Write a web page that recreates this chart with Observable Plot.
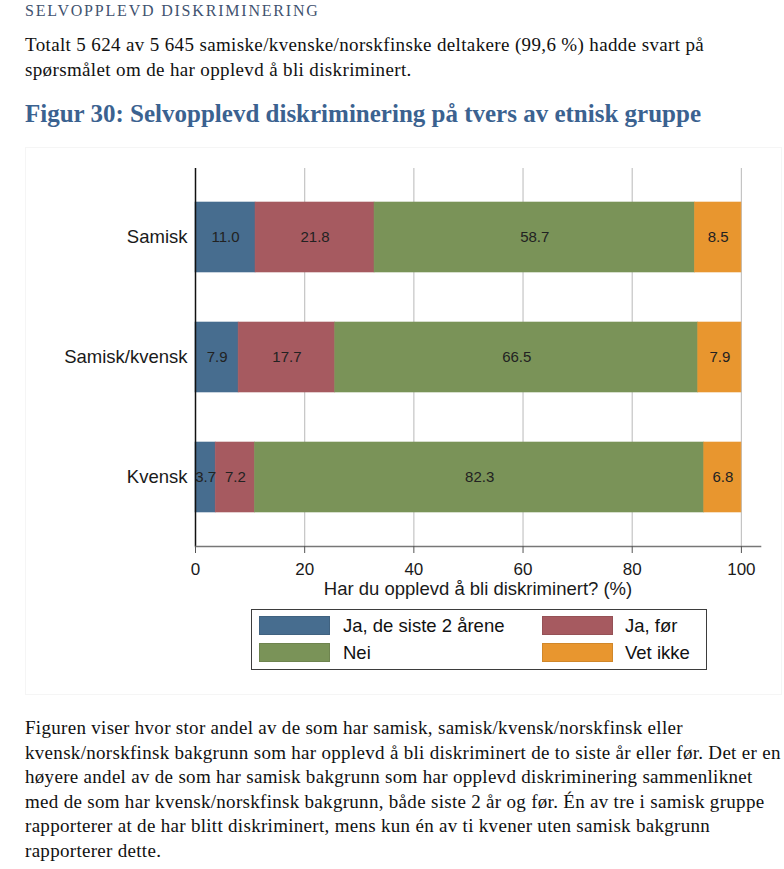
<!DOCTYPE html>
<html>
<head>
<meta charset="utf-8">
<script src="https://cdn.jsdelivr.net/npm/d3@7"></script>
<script src="https://cdn.jsdelivr.net/npm/@observablehq/plot@0.6"></script>
<style>
  html, body { margin: 0; padding: 0; background: #fff; }
  body { position: relative; width: 784px; height: 869px; overflow: hidden; }
  .abs { position: absolute; white-space: nowrap; }
  .serif { font-family: "Liberation Serif", "Times New Roman", serif; color: #111; }
  #kicker { left: 25px; top: 2px; font-size: 16px; letter-spacing: 1.8px; color: #3f5370; }
  #intro { left: 25px; top: 32px; font-size: 19px; letter-spacing: 0.36px; line-height: 25px; }
  #ftitle { left: 25px; top: 100px; font-size: 25px; font-weight: bold; color: #3b6290; }
  #panel { left: 25px; top: 147px; width: 757px; height: 548px; border: 1px solid #f5f5f5; box-sizing: border-box; }
  #chart { left: 0; top: 145px; }
  #legend { left: 251px; top: 609px; width: 456px; height: 61px; border: 1.5px solid #3d3d3d; box-sizing: border-box;
            font-family: "Liberation Sans", Arial, sans-serif; font-size: 18.5px; color: #111; }
  .sw { position: absolute; width: 71px; height: 19px; box-sizing: border-box; }
  .lt { position: absolute; line-height: 19px; white-space: nowrap; }
  #outro { left: 25px; top: 716px; font-size: 19px; letter-spacing: 0.3px; line-height: 24.6px; }
</style>
</head>
<body>
<div id="kicker" class="abs serif">SELVOPPLEVD DISKRIMINERING</div>
<div id="intro" class="abs serif">Totalt 5 624 av 5 645 samiske/kvenske/norskfinske deltakere (99,6 %) hadde svart på<br>spørsmålet om de har opplevd å bli diskriminert.</div>
<div id="ftitle" class="abs serif">Figur 30: Selvopplevd diskriminering på tvers av etnisk gruppe</div>
<div id="panel" class="abs"></div>
<div id="chart" class="abs"></div>
<div id="legend" class="abs"></div>
<div id="outro" class="abs serif">Figuren viser hvor stor andel av de som har samisk, samisk/kvensk/norskfinsk eller<br>kvensk/norskfinsk bakgrunn som har opplevd å bli diskriminert de to siste år eller før. Det er en<br>høyere andel av de som har samisk bakgrunn som har opplevd diskriminering sammenliknet<br>med de som har kvensk/norskfinsk bakgrunn, både siste 2 år og før. Én av tre i samisk gruppe<br>rapporterer at de har blitt diskriminert, mens kun én av ti kvener uten samisk bakgrunn<br>rapporterer dette.</div>
<script>
// ---- data ----
const groups = ["Samisk", "Samisk/kvensk", "Kvensk"];
const series = ["Ja, de siste 2 årene", "Ja, før", "Nei", "Vet ikke"];
const colors = ["#476d8f", "#a65a60", "#7a9358", "#e8962f"];
const samisk = [11.0, 21.8, 58.7, 8.5];
const samiskKvensk = [7.9, 17.7, 66.5, 7.9];
const kvensk = [3.7, 7.2, 82.3, 6.8];
const xTicks = [0, 20, 40, 60, 80, 100];
const xLabel = "Har du opplevd å bli diskriminert? (%)";

const valuesByGroup = [samisk, samiskKvensk, kvensk];
const data = groups.flatMap((g, i) =>
  valuesByGroup[i].map((v, j) => ({ group: g, series: series[j], value: v }))
);

const chart = Plot.plot({
  width: 784,
  height: 460,
  marginLeft: 195,
  marginRight: 24,
  marginTop: 23,
  marginBottom: 59,
  style: { fontFamily: "'Liberation Sans', Arial, sans-serif", fontSize: "16px", color: "#1a1a1a", background: "transparent" },
  x: { domain: [0, 103.5] },
  y: { domain: groups, paddingInner: 0.4167, paddingOuter: 0.2833 },
  color: { domain: series, range: colors },
  marks: [
    Plot.gridX(xTicks.slice(1), { stroke: "#c4c4c4", strokeOpacity: 1, strokeWidth: 1.2 }),
    Plot.barX(data, { x: "value", y: "group", fill: "series", stroke: "series", strokeWidth: 0.6 }),
    Plot.text(data, Plot.stackX({ x: "value", y: "group", z: "series", text: d => d.value.toFixed(1), fill: "#222", fontSize: 15 })),
    Plot.ruleX([0], { stroke: "#111", strokeWidth: 1.5 }),
    Plot.frame({ anchor: "bottom", stroke: "#777", strokeWidth: 1.6 }),
    Plot.axisX({ ticks: xTicks, tickSize: 7, tickPadding: 9, label: null, stroke: "#555", fill: "#1a1a1a", fontSize: 17 }),
    Plot.axisY({ tickSize: 0, tickPadding: 8, label: null, fontSize: 18.5, fill: "#1a1a1a" }),
    Plot.text([xLabel], { frameAnchor: "bottom", dy: 48, fontSize: 18.5, fill: "#1a1a1a" })
  ]
});
document.getElementById("chart").appendChild(chart);

// ---- legend ----
const legend = document.getElementById("legend");
const pos = [
  { sx: 7, tx: 91, y: 6 },
  { sx: 290, tx: 373, y: 6 },
  { sx: 7, tx: 91, y: 33 },
  { sx: 290, tx: 373, y: 33 }
];
series.forEach((s, i) => {
  const sw = document.createElement("div");
  sw.className = "sw";
  sw.style.left = pos[i].sx + "px";
  sw.style.top = pos[i].y + "px";
  sw.style.background = colors[i];
  sw.style.border = "1px solid " + d3.color(colors[i]).darker(0.3);
  legend.appendChild(sw);
  const t = document.createElement("div");
  t.className = "lt";
  t.style.left = pos[i].tx + "px";
  t.style.top = pos[i].y + "px";
  t.textContent = s;
  legend.appendChild(t);
});
</script>
</body>
</html>
